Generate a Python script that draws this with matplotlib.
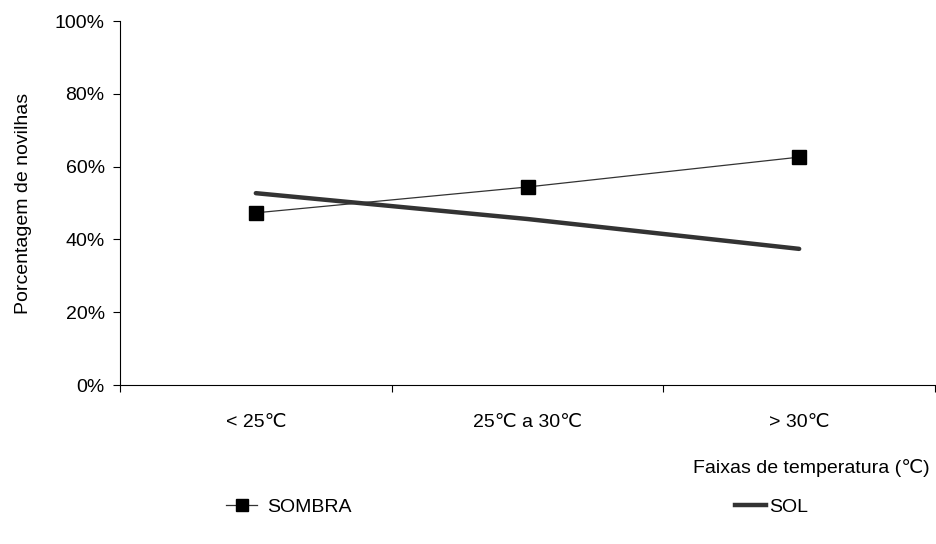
import numpy as np
import matplotlib.pyplot as plt
from matplotlib.lines import Line2D

plt.rcParams['font.family'] = ['Liberation Sans', 'DejaVu Sans']
plt.rcParams['font.size'] = 14

# ----- Data -----
categories = ['< 25\u2103', '25\u2103 a 30\u2103', '> 30\u2103']
sombra = [47.3, 54.4, 62.6]
sol = [52.7, 45.6, 37.4]
yticks = [0, 20, 40, 60, 80, 100]

# ----- Plot -----
fig = plt.figure(figsize=(9.36, 5.44), dpi=100)
ax = fig.add_axes([120/936, 1 - 385/544, 815/936, 364/544])

x = np.arange(len(categories))
ax.plot(x, sombra, color='#333333', lw=0.9, marker='s', ms=10,
        mfc='black', mec='black', zorder=3)
ax.plot(x, sol, color='#333333', lw=3.2, solid_capstyle='round', zorder=2)

ax.set_xlim(-0.5, 2.5)
ax.set_ylim(0, 100)
ax.set_yticks(yticks)
ax.set_yticklabels([f'{v}%' for v in yticks])
ax.set_xticks([-0.5, 0.5, 1.5, 2.5])
ax.set_xticklabels([])
ax.set_xticks(x, minor=True)
ax.set_xticklabels(categories, minor=True)
ax.tick_params(axis='x', which='minor', length=0, pad=21)
ax.tick_params(axis='x', which='major', length=5, direction='out')
ax.tick_params(axis='y', length=5, direction='out', pad=6)

for s in ['top', 'right']:
    ax.spines[s].set_visible(False)
ax.spines['left'].set_linewidth(0.8)
ax.spines['bottom'].set_linewidth(0.8)

ax.set_ylabel('Porcentagem de novilhas', labelpad=16)
fig.text(930/936, 1 - 468/544, 'Faixas de temperatura (\u2103)', ha='right', va='center')

# ----- Legend -----
h1 = Line2D([], [], color='#333333', lw=0.9, marker='s', ms=10, mfc='black', mec='black')
h2 = Line2D([], [], color='#333333', lw=3.2)
fig.legend([h1], ['SOMBRA'], loc='center left', bbox_to_anchor=(226/936, 1 - 507/544),
           frameon=False, borderpad=0, borderaxespad=0, handlelength=1.6,
           handletextpad=0.5, markerscale=0.9)
fig.legend([h2], ['SOL'], loc='center left', bbox_to_anchor=(735/936, 1 - 507/544),
           frameon=False, borderpad=0, borderaxespad=0, handlelength=1.6,
           handletextpad=0.15)

fig.savefig('out.png', dpi=100)
